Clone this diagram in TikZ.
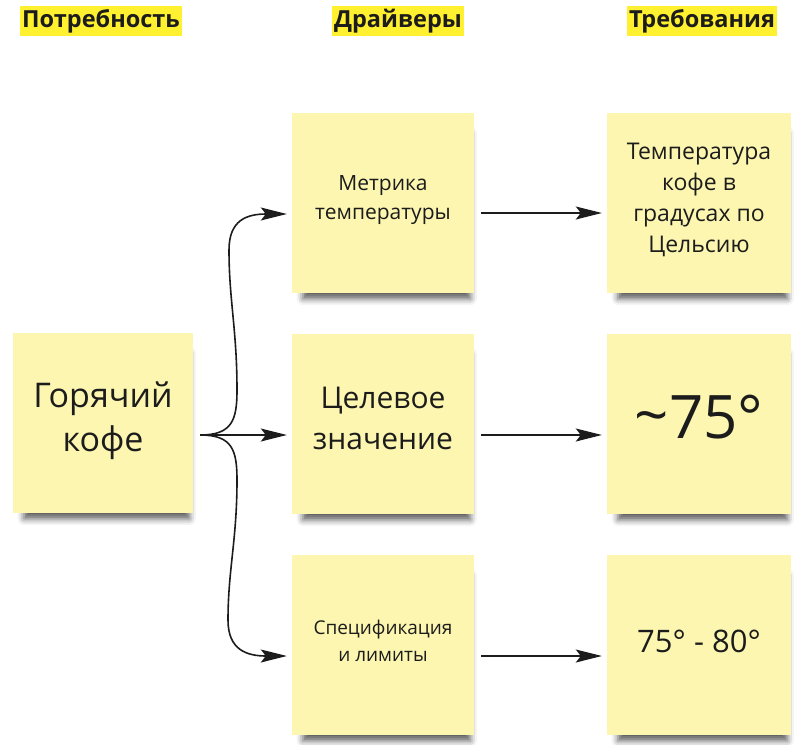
\documentclass[tikz,border=0pt]{standalone}
\usepackage{fontspec}
\setmainfont{Open Sans}
\usetikzlibrary{arrows.meta,shadows.blur}
\definecolor{note}{RGB}{252,246,176}
\definecolor{hl}{RGB}{255,241,48}
\definecolor{ink}{RGB}{28,28,28}
\begin{document}
\begin{tikzpicture}[x=1pt,y=-1pt,
  sticky/.style={fill=note, minimum width=182pt, minimum height=180pt, inner sep=0pt,
    blur shadow={shadow xshift=4pt, shadow yshift=-14pt, shadow scale=0.92,
      shadow opacity=65, shadow blur radius=7pt}},
  notetext/.style={align=center, text=ink, inner sep=0pt},
  header/.style={fill=hl, font=\bfseries\fontsize{23.5}{27}\selectfont, inner xsep=2pt,
    minimum height=30pt, text=ink},
  conn/.style={line width=1.6pt, draw=ink, -{Stealth[length=26pt,width=13pt,inset=5pt]}}]
\useasboundingbox (0,0) rectangle (800,744);

% headers
\node[header] (h1) at (101,21) {Потребность};
\node[header] (h2) at (398,21) {Драйверы};
\node[header] (h3) at (702,21) {Требования};

% notes
\node[sticky, minimum width=180pt] (hot) at (103,423) {};
\node[sticky] (m1) at (383,203) {};
\node[sticky] (m2) at (383,424) {};
\node[sticky] (m3) at (383,645) {};
\node[sticky, minimum width=184pt] (r1) at (699,203) {};
\node[sticky, minimum width=184pt] (r2) at (699,424) {};
\node[sticky, minimum width=184pt] (r3) at (699,645) {};

% note texts
\node[notetext, font=\fontsize{34}{44}\selectfont] (hott) at ([yshift=2pt]hot.center) {Горячий\\кофе};
\node[notetext, font=\fontsize{21}{29}\selectfont] (m1t) at ([yshift=3pt]m1.center) {Метрика\\температуры};
\node[notetext, font=\fontsize{30}{41}\selectfont] (m2t) at ([yshift=6pt]m2.center) {Целевое\\значение};
\node[notetext, font=\fontsize{19}{27}\selectfont] (m3t) at ([yshift=4pt]m3.center) {Спецификация\\и лимиты};
\node[notetext, font=\fontsize{23}{31}\selectfont] (r1t) at ([yshift=3pt]r1.center) {Температура\\кофе в\\градусах по\\Цельсию};
\node[notetext, font=\fontsize{60}{62}\selectfont] (r2t) at ([yshift=7pt]r2.center) {\raisebox{2pt}{\textasciitilde}75°};
\node[notetext, font=\fontsize{31}{36}\selectfont] (r3t) at ([yshift=4pt]r3.center) {75° - 80°};

% brace connectors
\coordinate (tip) at ([xshift=7pt,yshift=-12pt]hot.east);
\coordinate (b1) at (237,390);
\coordinate (b2) at (229,250);
\coordinate (c1) at (237,480);
\coordinate (c2) at (228,620);
\coordinate (e1) at ([xshift=-5pt,yshift=-11pt]m1.west);
\coordinate (e3) at ([xshift=-5pt,yshift=-11pt]m3.west);

\draw[conn] (tip) .. controls +(32,0) and +(0,30) .. (b1)
  .. controls +(0,-60) and +(0,50) .. (b2)
  .. controls +(0,-30) and +(-40,0) .. (e1);
\draw[conn] (tip) .. controls +(32,0) and +(0,-30) .. (c1)
  .. controls +(0,60) and +(0,-50) .. (c2)
  .. controls +(0,30) and +(-40,0) .. (e3);
\draw[conn] (tip) -- ([xshift=-5pt]tip -| m2.west);

% straight connectors
\draw[conn] ([xshift=7pt,yshift=-10pt]m1.east) -- ([xshift=-5pt,yshift=-10pt]r1.west);
\draw[conn] ([xshift=7pt,yshift=-11pt]m2.east) -- ([xshift=-5pt,yshift=-11pt]r2.west);
\draw[conn] ([xshift=7pt,yshift=-11pt]m3.east) -- ([xshift=-5pt,yshift=-11pt]r3.west);
\end{tikzpicture}
\end{document}
